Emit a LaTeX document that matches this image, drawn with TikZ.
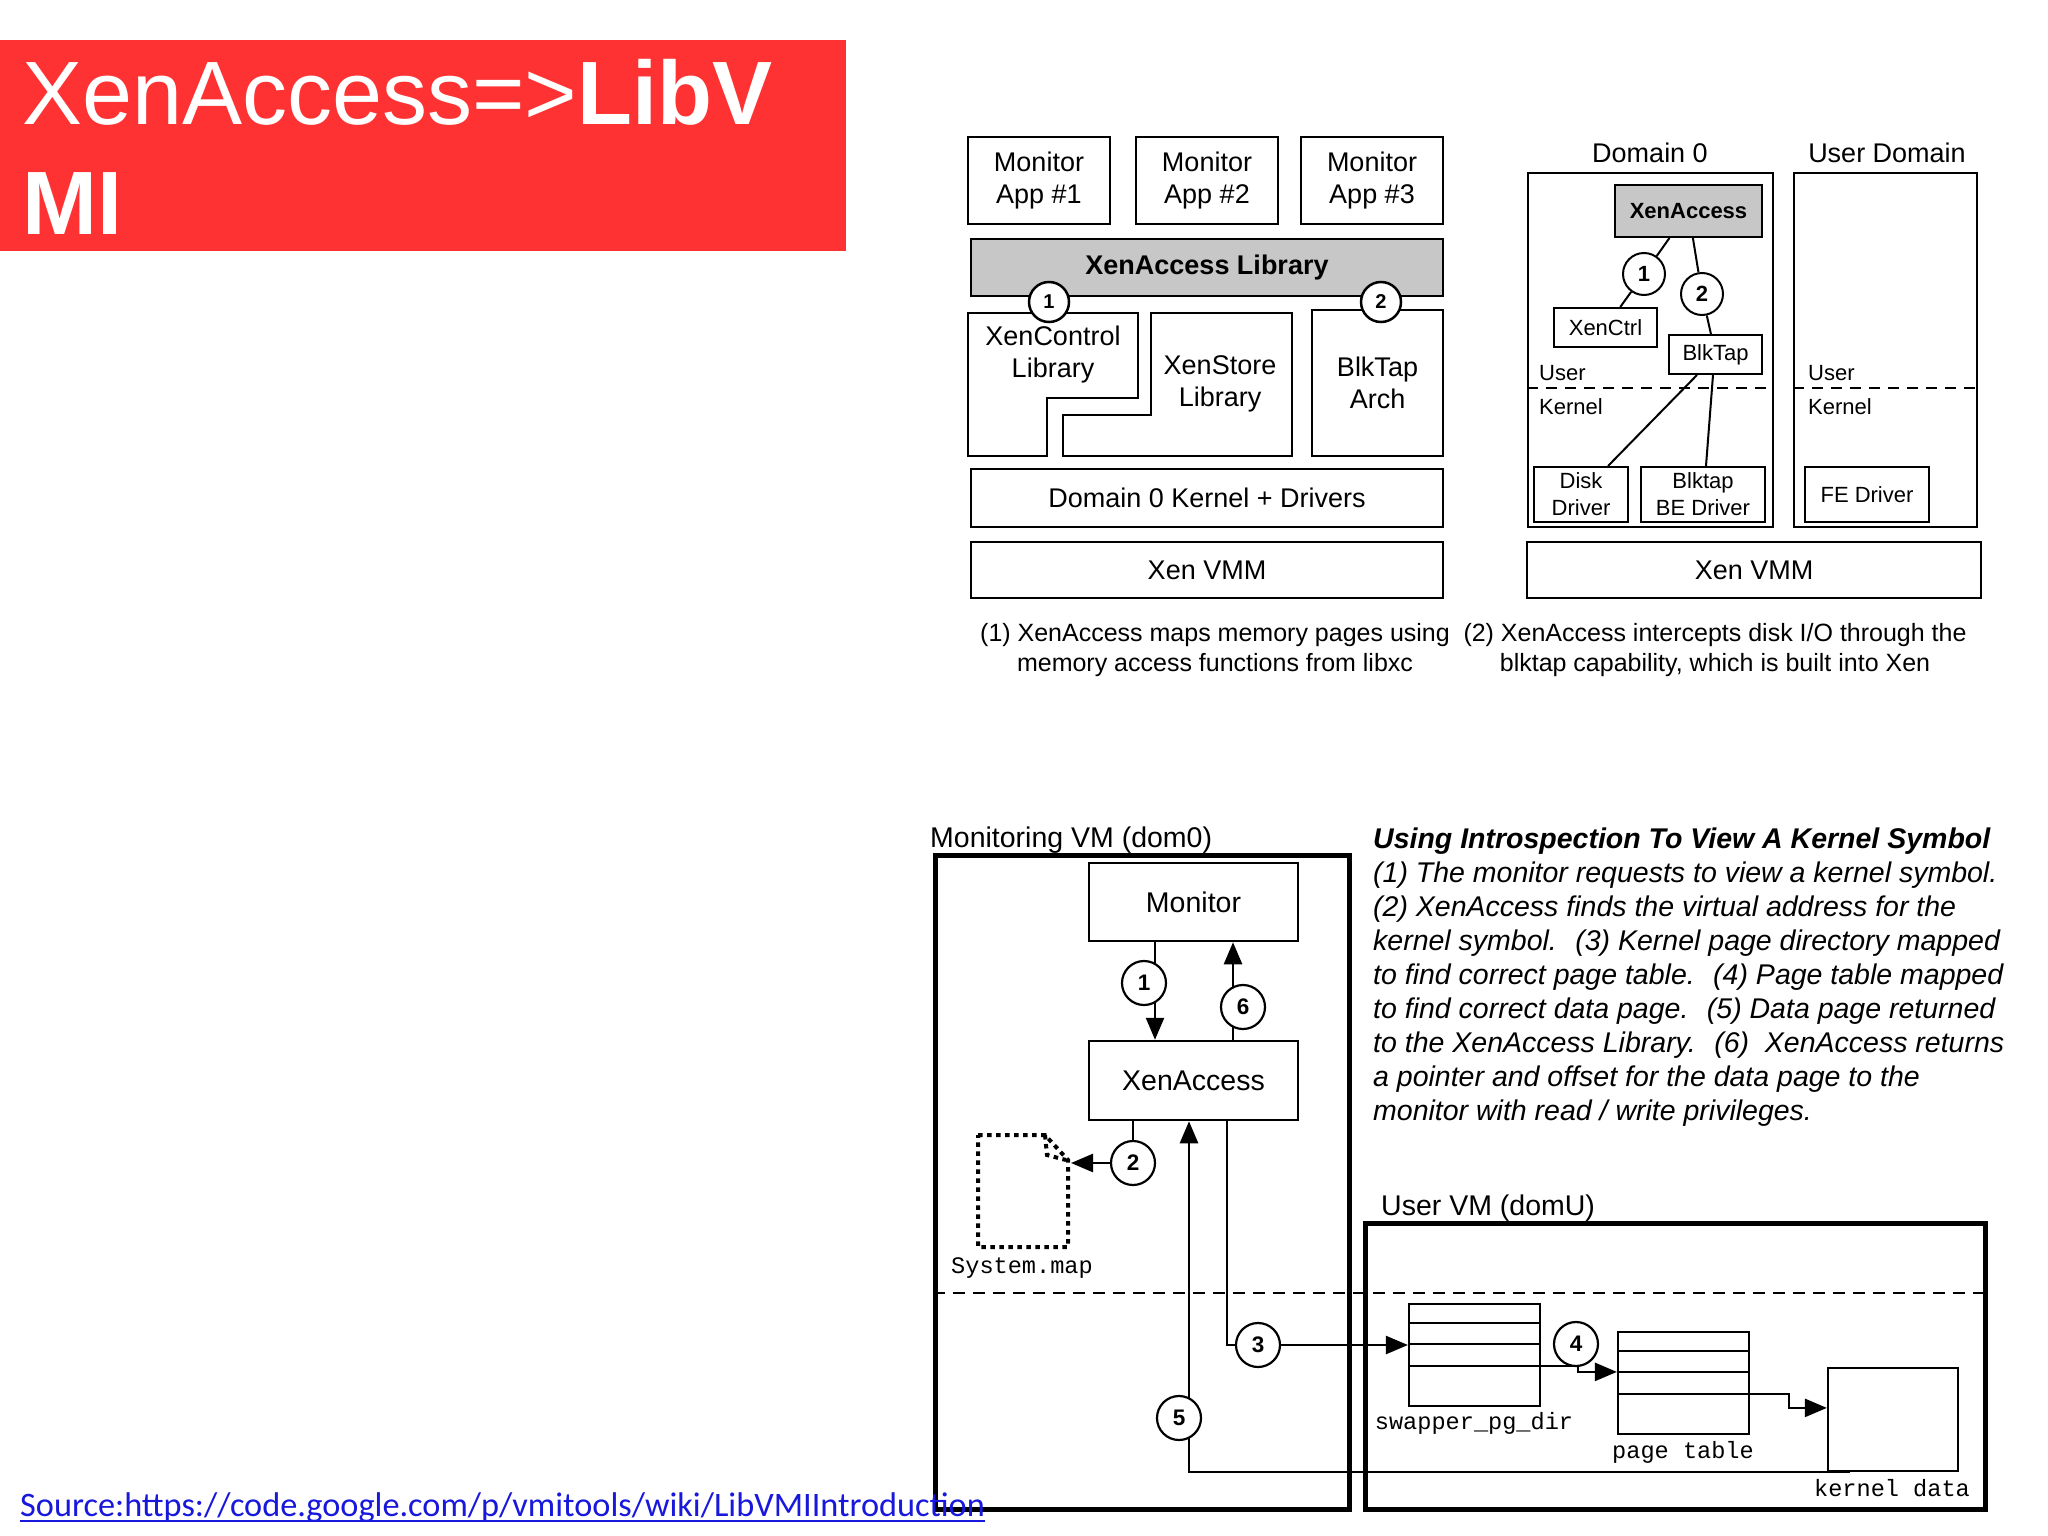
\documentclass[tikz,border=0pt]{standalone}
\usepackage{fontspec}
\setmainfont{Liberation Sans}
\setmonofont{Liberation Mono}
\newfontfamily\linkfont{Carlito}
\usetikzlibrary{arrows.meta}
\definecolor{slidered}{RGB}{254,50,50}
\definecolor{linkblue}{RGB}{24,24,220}
\newcommand\titlefont{\fontsize{90}{109}\selectfont}
\newcommand\appfont{\fontsize{27}{32}\selectfont}
\newcommand\domfont{\fontsize{22}{27}\selectfont}
\newcommand\vmfont{\fontsize{28.5}{33.9}\selectfont}
\newcommand\notefont{\fontsize{25}{30}\selectfont}
\newcommand\circfont{\bfseries\fontsize{22.5}{22.5}\selectfont}
\newcommand\mapfont{\ttfamily\fontsize{23.6}{28}\selectfont}
\tikzset{
  layer/.style={draw, line width=2.5pt, inner sep=0pt, align=center, font=\appfont},
  dombox/.style={draw, line width=2pt, inner sep=0pt, align=center, font=\domfont},
  vmbox/.style={draw, line width=5pt, inner sep=0pt},
  procbox/.style={draw, line width=2.5pt, inner sep=0pt, font=\vmfont},
  ptable/.style={draw, line width=2.2pt, minimum width=131pt, minimum height=102pt, inner sep=0pt},
  numcirc/.style={draw, circle, fill=white, line width=2.2pt, minimum size=42pt, inner sep=0pt, font=\circfont},
  thinlink/.style={line width=2pt},
  flowarrow/.style={-{Triangle[length=22pt,width=18pt]}, line width=2.5pt},
  splitline/.style={line width=2.2pt, dash pattern=on 12pt off 8pt}
}

\begin{document}
\begin{tikzpicture}[x=1pt, y=-1pt]
  \useasboundingbox (0,0) rectangle (2048,1536);

  % slide title
  \fill[slidered] (0,40) rectangle (846,251);
  \node[anchor=base west, inner sep=0pt, text=white, font=\titlefont] (title1) at (22,125) {XenAccess=>\textbf{LibV}};
  \node[anchor=base west, inner sep=0pt, text=white, font=\titlefont] (title2) at (22,234) {\textbf{MI}};

  % XenAccess layers
  \node[layer, minimum width=142pt, minimum height=87pt] (app1) at (1039,180.5) {Monitor\\App \#1};
  \node[layer, minimum width=142pt, minimum height=87pt] (app2) at (1207,180.5) {Monitor\\App \#2};
  \node[layer, minimum width=142pt, minimum height=87pt] (app3) at (1372,180.5) {Monitor\\App \#3};
  \node[layer, fill=black!22, minimum width=472pt, minimum height=57pt, font=\appfont\bfseries] (xalib) at (1207,267.5) {XenAccess Library};
  \draw[line width=2.5pt] (968,313) -- (1138,313) -- (1138,398) -- (1047,398) -- (1047,456) -- (968,456) -- cycle;
  \node[align=center, font=\appfont] (xcl) at (1053,355) {XenControl\\Library};
  \draw[line width=2.5pt] (1151,313) -- (1292,313) -- (1292,456) -- (1063,456) -- (1063,415) -- (1151,415) -- cycle;
  \node[align=center, font=\appfont] (xsl) at (1220,384) {XenStore\\Library};
  \node[layer, minimum width=131pt, minimum height=146pt] (arch) at (1377.5,383) {BlkTap\\Arch};
  \node[layer, minimum width=472pt, minimum height=58pt] (d0k) at (1207,498) {Domain 0 Kernel + Drivers};
  \node[layer, minimum width=472pt, minimum height=56pt] (vmmA) at (1207,570) {Xen VMM};
  \node[numcirc, minimum size=40pt, line width=2.5pt, font=\bfseries\fontsize{20}{20}\selectfont] (la1) at (1049,302) {1};
  \node[numcirc, minimum size=40pt, line width=2.5pt, font=\bfseries\fontsize{20}{20}\selectfont] (la2) at (1381,302) {2};

  % domain view
  \node[font=\appfont] (d0lab) at (1650,153) {Domain 0};
  \node[font=\appfont] (udlab) at (1887,153) {User Domain};
  \node[dombox, minimum width=245pt, minimum height=354pt] (dom0) at (1650.5,350) {};
  \node[dombox, minimum width=183pt, minimum height=354pt] (udom) at (1885.5,350) {};
  \node[dombox, fill=black!22, minimum width=147pt, minimum height=52pt, font=\domfont\bfseries] (xa) at (1688.5,211) {XenAccess};
  \node[dombox, minimum width=103pt, minimum height=39pt] (xctrl) at (1605.5,327.5) {XenCtrl};
  \node[dombox, minimum width=93pt, minimum height=39pt] (btap) at (1715.5,354.5) {BlkTap};
  \node[dombox, minimum width=94pt, minimum height=55pt] (disk) at (1581,494.5) {Disk\\Driver};
  \node[dombox, minimum width=124pt, minimum height=55pt] (bedrv) at (1703,494.5) {Blktap\\BE Driver};
  \node[dombox, minimum width=124pt, minimum height=55pt] (fedrv) at (1867,494.5) {FE Driver};
  \node[layer, minimum width=454pt, minimum height=56pt] (vmmB) at (1754,570) {Xen VMM};
  \draw[splitline, dash pattern=on 11pt off 8pt] (dom0.west |- 0,388) -- (dom0.east |- 0,388);
  \draw[splitline, dash pattern=on 11pt off 8pt] (udom.west |- 0,388) -- (udom.east |- 0,388);
  \node[anchor=west, inner sep=0pt, font=\domfont] (u1) at (1539,373) {User};
  \node[anchor=west, inner sep=0pt, font=\domfont] (k1) at (1539,407) {Kernel};
  \node[anchor=west, inner sep=0pt, font=\domfont] (u2) at (1808,373) {User};
  \node[anchor=west, inner sep=0pt, font=\domfont] (k2) at (1808,407) {Kernel};
  \node[numcirc, line width=2pt, font=\domfont\bfseries] (da1) at (1644,274) {1};
  \node[numcirc, line width=2pt, font=\domfont\bfseries] (da2) at (1702,294) {2};
  \draw[thinlink] (da1) -- (xa);
  \draw[thinlink] (da1) -- (xctrl);
  \draw[thinlink] (da2) -- (xa);
  \draw[thinlink] (da2) -- (btap);
  \draw[thinlink] ([xshift=-18.5]btap.south) -- ([xshift=27]disk.north);
  \draw[thinlink] ([xshift=-2.5]btap.south) -- ([xshift=3]bedrv.north);

  % notes
  \node[anchor=north, align=center, inner sep=0pt, font=\notefont] (noteA) at (1215,623) {(1) XenAccess maps memory pages using\\memory access functions from libxc};
  \node[anchor=north, align=center, inner sep=0pt, font=\notefont] (noteB) at (1715,623) {(2) XenAccess intercepts disk I/O through the\\blktap capability, which is built into Xen};

  % introspection walk
  \node[anchor=base west, inner sep=0pt, font=\vmfont] (monlab) at (930,847) {Monitoring VM (dom0)};
  \node[vmbox, minimum width=414pt, minimum height=654pt] (monvm) at (1142,1182) {};
  \node[anchor=base west, inner sep=0pt, font=\vmfont] (uvmlab) at (1381,1215) {User VM (domU)};
  \node[vmbox, minimum width=620pt, minimum height=286pt] (uservm) at (1675,1366) {};
  \draw[splitline] (monvm.west |- 0,1293) -- (uservm.east |- 0,1293);
  \node[procbox, minimum width=209pt, minimum height=78pt] (monitor) at (1193.5,902) {Monitor};
  \node[procbox, minimum width=209pt, minimum height=79pt] (xenacc) at (1193.5,1080.5) {XenAccess};

  \draw[line width=4pt, dash pattern=on 4.5pt off 4.5pt] (978,1135) -- (1045,1135) -- (1068,1160) -- (1068,1247) -- (978,1247) -- cycle;
  \draw[line width=4pt, dash pattern=on 4.5pt off 4.5pt] (1045,1135) -- (1047,1155) -- (1066,1160);
  \coordinate (mapcorner) at (1071,1163);
  \node[font=\mapfont] (maplab) at (1022,1268) {System.map};

  \node[ptable] (pgdir) at (1474.5,1355) {};
  \node[ptable] (pgtab) at (1683.5,1383) {};
  \foreach \dy in {20,41,63} {
    \draw[line width=2pt] ([yshift=-\dy]pgdir.north west) -- ([yshift=-\dy]pgdir.north east);
    \draw[line width=2pt] ([yshift=-\dy]pgtab.north west) -- ([yshift=-\dy]pgtab.north east);
  }
  \node[draw, line width=2.2pt, minimum width=130pt, minimum height=103pt] (kdata) at (1893,1419.5) {};
  \node[font=\mapfont] (pgdirlab) at (1474,1423) {swapper\_pg\_dir};
  \node[font=\mapfont] (pgtablab) at (1683,1452) {page table};
  \node[font=\mapfont] (kdatalab) at (1892,1488) {kernel data};

  \coordinate (s1) at (1144,983);
  \coordinate (s2) at (1133,1163);
  \coordinate (s3) at (1258,1345);
  \coordinate (s4) at (1576,1344);
  \coordinate (s5) at (1179,1418);
  \coordinate (s6) at (1243,1007);
  \draw[flowarrow] ([xshift=-38.5]monitor.south) -- ([xshift=-38.5]xenacc.north);
  \draw[flowarrow] ([xshift=39.5]xenacc.north) -- ([xshift=39.5]monitor.south);
  \draw[line width=2.5pt] ([xshift=-60.5]xenacc.south) -- (s2);
  \draw[flowarrow] (s2) -- (mapcorner);
  \draw[flowarrow] ([xshift=33.5]xenacc.south) |- (pgdir.west |- s3);
  \draw[flowarrow] ([yshift=-63]pgdir.north east) -- ++(37,0) |- ([yshift=-41]pgtab.north west);
  \draw[flowarrow] ([yshift=-63]pgtab.north east) -- ++(39,0) |- ([yshift=-41]kdata.north west);
  \draw[flowarrow] ([xshift=-43]kdata.south) -| ([xshift=-4.5]xenacc.south);
  \foreach \s in {1,...,6}
    \node[numcirc, minimum size=44pt] (step\s) at (s\s) {\s};

  \node[anchor=north west, align=left, inner sep=0pt, font=\vmfont\itshape] (howto) at (1373,828) {\textbf{Using Introspection To View A Kernel Symbol}\\
    (1) The monitor requests to view a kernel symbol.\\
    (2) XenAccess finds the virtual address for the\\
    kernel symbol.~ (3) Kernel page directory mapped\\
    to find correct page table.~ (4) Page table mapped\\
    to find correct data page.~ (5) Data page returned\\
    to the XenAccess Library.~ (6)~ XenAccess returns\\
    a pointer and offset for the data page to the\\
    monitor with read / write privileges.};

  % source link
  \node[anchor=base west, inner sep=0pt, text=linkblue, font=\linkfont\fontsize{34.3}{34.3}\selectfont] (src) at (20,1516) {Source:https://code.google.com/p/vmitools/wiki/LibVMIIntroduction};
  \draw[linkblue, line width=2pt] ([yshift=-5]src.base west) -- ([yshift=-5]src.base east);
\end{tikzpicture}
\end{document}
